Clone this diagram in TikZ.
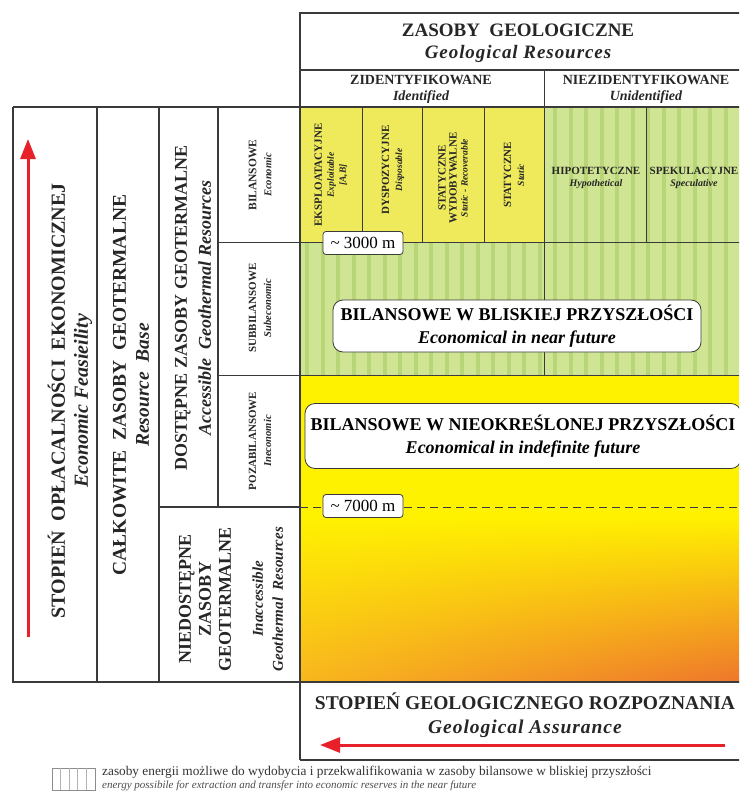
\documentclass[tikz,border=0pt]{standalone}
\usepackage{fontspec}
\setmainfont{Liberation Serif}
\newfontfamily\widefont[LetterSpace=5]{Liberation Serif}
\usetikzlibrary{arrows.meta,positioning,calc,shadings}
\definecolor{lineg}{HTML}{3A3A3A}
\definecolor{celly}{HTML}{EEEA5C}
\definecolor{hatchbg}{HTML}{D0E593}
\definecolor{hatchln}{HTML}{B8D677}
\definecolor{hotY}{HTML}{FFF200}
\definecolor{hotM}{HTML}{F8B61E}
\definecolor{hotO}{HTML}{EE762C}
\definecolor{arrred}{HTML}{E8202A}
\newcommand{\fsz}[2]{\fontsize{#1}{#2}\selectfont}

\begin{document}
\begin{tikzpicture}[x=1pt,y=-1pt]
  \tikzstyle{framln}=[draw=lineg,line width=1.1pt]
  \tikzstyle{gridln}=[draw=lineg,line width=0.8pt]
  \tikzstyle{lbl}=[inner sep=0pt,align=center,text=black!85]
  \tikzstyle{vlbl}=[lbl,rotate=90]
  \tikzstyle{depth}=[draw=lineg,fill=white,rounded corners=3pt,inner sep=0pt,line width=0.8pt,minimum width=80pt,minimum height=23pt,font=\fsz{17}{17}]
  \tikzstyle{pill}=[draw=lineg,fill=white,rounded corners=10pt,line width=0.8pt,align=center,inner sep=0pt,font=\fsz{18}{23}\bfseries]
  \tikzstyle{redarrow}=[draw=arrred,line width=3pt,-{Triangle[length=20pt,width=15pt]}]

  \useasboundingbox (0,0) rectangle (739,792);
  \clip (0,0) rectangle (739,792);

  % colour fields
  \fill[celly] (300,107) rectangle (544,242);
  \fill[hatchbg] (544,107) rectangle (739,242);
  \fill[hatchbg] (300,242) rectangle (739,375);
  \begin{scope}
    \clip (544,107) rectangle (739,242) (300,242) rectangle (739,375);
    \foreach \x in {305,320.5,...,739}
      \fill[hatchln] (\x,107) rectangle ++(4,268);
  \end{scope}
  \fill[hotY] (300,375) rectangle (739,516);
  \shade[upper left=hotY,upper right=hotY,lower left=hotM,lower right=hotO] (300,515) rectangle (739,682);

  % table lines
  \draw[framln] (300,760) -- (300,13) -- (745,13);
  \draw[framln] (300,70) -- (745,70);
  \draw[framln] (13,107) -- (745,107);
  \draw[framln] (13,107) -- (13,682) -- (745,682);
  \draw[framln] (300,760) -- (745,760);
  \draw[framln] (97,107) -- (97,682);
  \draw[framln] (159,107) -- (159,682);
  \draw[framln] (218,107) -- (218,507);
  \draw[framln] (159,507) -- (300,507);
  \draw[gridln] (218,242) -- (745,242);
  \draw[gridln] (218,375) -- (745,375);
  \draw[gridln] (544,70) -- (544,375);
  \foreach \x in {362,422,484,646}
    \draw[gridln] (\x,107) -- (\x,242);
  \draw[gridln,dash pattern=on 8pt off 5pt] (300,507) -- (745,507);

  % headers
  \node[lbl,font=\fsz{19}{22}\bfseries] (geo) at (518,43) {ZASOBY\ \ GEOLOGICZNE\\\widefont\bfseries\itshape Geological Resources};
  \node[lbl,font=\fsz{14}{16}\bfseries] (ident) at (421,89) {ZIDENTYFIKOWANE\\\itshape Identified};
  \node[lbl,font=\fsz{14}{16}\bfseries] (unident) at (646,89) {NIEZIDENTYFIKOWANE\\\itshape Unidentified};

  % yellow cells
  \node[vlbl,font=\fsz{11}{12}\bfseries] (expl) at (331,175) {EKSPLOATACYJNE\\\fsz{9.5}{12}\itshape Exploitable\\\fsz{9.5}{11}\itshape{[A,B]}};
  \node[vlbl,font=\fsz{11}{13}\bfseries] (disp) at (393,170) {DYSPOZYCYJNE\\\fsz{9.5}{12}\itshape Disposable};
  \node[vlbl,font=\fsz{11}{11}\bfseries] (recov) at (453,178) {STATYCZNE\\WYDOBYWALNE\\\fsz{9.5}{11}\itshape Static - Recoverable};
  \node[vlbl,font=\fsz{11}{13}\bfseries] (stat) at (514,175) {STATYCZNE\\\fsz{9.5}{12}\itshape Static};
  \node[lbl,font=\fsz{11}{12}\bfseries] (hypo) at (596,178) {HIPOTETYCZNE\\\fsz{10}{12}\itshape Hypothetical};
  \node[lbl,font=\fsz{11}{12}\bfseries] (spec) at (694,178) {SPEKULACYJNE\\\fsz{10}{12}\itshape Speculative};

  % left columns
  \node[vlbl,font=\fsz{20}{23}\bfseries] (feas) at (70,401) {STOPIEŃ\ \ OPŁACALNOŚCI\ \ EKONOMICZNEJ\\\itshape Economic Feasieility};
  \node[vlbl,font=\fsz{19.5}{23}\bfseries] (base) at (131,385) {CAŁKOWITE\ \ ZASOBY\ \ GEOTERMALNE\\\itshape Resource\ \ Base};
  \node[vlbl,font=\fsz{18}{24}\bfseries] (access) at (193,308) {DOSTĘPNE ZASOBY GEOTERMALNE\\\itshape Accessible\ \ Geothermal Resources};
  \node[vlbl,font=\fsz{11.5}{15}\bfseries] (econ) at (260,175) {BILANSOWE\\\fsz{10.5}{15}\itshape Economic};
  \node[vlbl,font=\fsz{11}{15}\bfseries] (subecon) at (260,308) {SUBBILANSOWE\\\fsz{10.5}{15}\itshape Subeconomic};
  \node[vlbl,font=\fsz{11}{15}\bfseries] (inecon) at (260,441) {POZABILANSOWE\\\fsz{10.5}{15}\itshape Ineconomic};
  \node[vlbl,font=\fsz{18}{20}\bfseries] (inacc) at (231,599) {NIEDOSTĘPNE\\ZASOBY\\GEOTERMALNE\\[12pt]\fsz{15}{16}\itshape Inaccessible\\\fsz{15}{16}\itshape Geothermal\ \ Resources};

  % depth tags and future boxes
  \node[pill,minimum width=368pt,minimum height=52pt] (near) at (517,326) {BILANSOWE W BLISKIEJ PRZYSZŁOŚCI\\\itshape Economical in near future};
  \node[pill,minimum width=436pt,minimum height=65pt] (indef) at (523,436) {BILANSOWE W NIEOKREŚLONEJ PRZYSZŁOŚCI\\\itshape Economical in indefinite future};
  \node[depth] (d3000) at (363,243) {\textasciitilde\ 3000 m};
  \node[depth] (d7000) at (363,506) {\textasciitilde\ 7000 m};

  % assurance
  \node[lbl,font=\fsz{19.5}{24}\bfseries] (assur) at (525,715) {STOPIEŃ GEOLOGICZNEGO ROZPOZNANIA\\\widefont\bfseries\itshape Geological Assurance};

  % arrows
  \coordinate (ecoS) at (28,637);
  \coordinate (ecoE) at (28,139);
  \coordinate (geoS) at (725,745);
  \coordinate (geoE) at (320,745);
  \draw[redarrow] (ecoS) -- (ecoE);
  \draw[redarrow] (geoS) -- (geoE);

  % legend
  \draw[draw=black!45,line width=0.6pt] (52,768) rectangle (95,790);
  \foreach \x in {60.5,69,77.5,86}
    \draw[draw=black!30,line width=0.5pt] (\x,768) -- (\x,790);
  \node[lbl,anchor=west,text=black!80,font=\fsz{13.3}{13}] (legpl) at (102,772) {zasoby energii możliwe do wydobycia i przekwalifikowania w zasoby bilansowe w bliskiej przyszłości};
  \node[lbl,anchor=west,text=black!70,font=\fsz{11}{11}\itshape] (legen) at (102,786) {energy possibile for extraction and transfer into economic reserves in the near future};
\end{tikzpicture}
\end{document}
